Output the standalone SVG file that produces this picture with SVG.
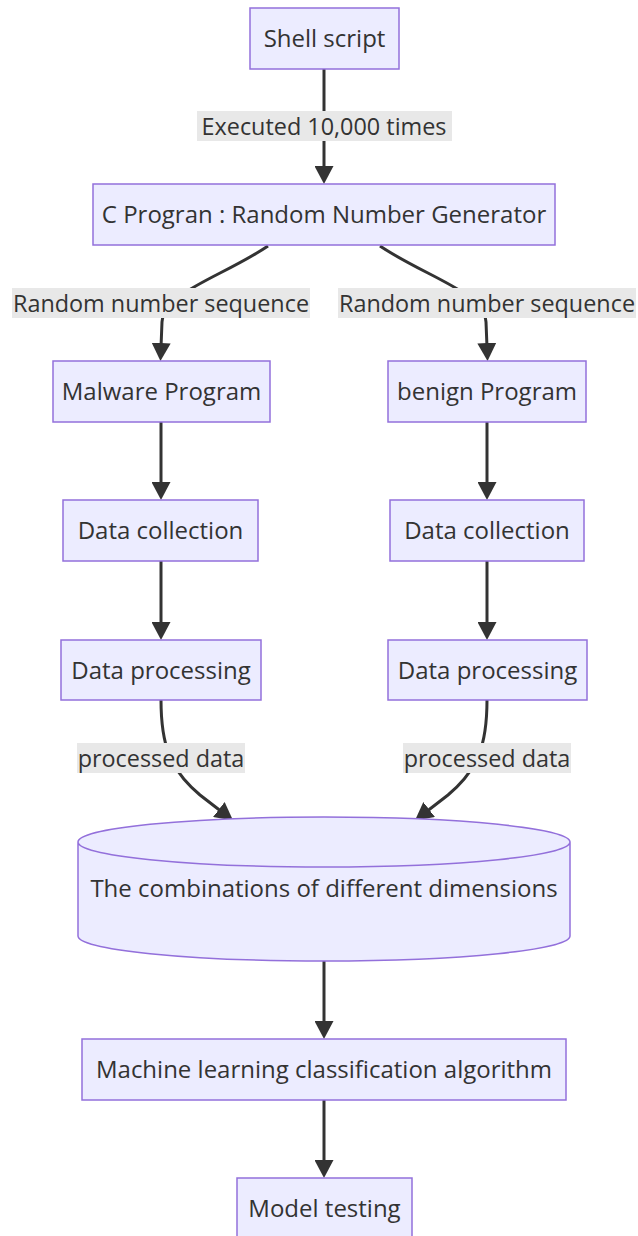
<svg xmlns="http://www.w3.org/2000/svg" width="638" height="1236" viewBox="0 0 638 1236">
  <style>
    .node rect, .node path { fill: #ECECFF; stroke: #9370DB; stroke-width: 1.5; }
    .node text, .label text { font-family: "Open Sans", "Noto Sans", sans-serif; font-size: 24px; fill: #333; text-anchor: middle; }
    .label text { font-size: 23.4px; }
    .edge { fill: none; stroke: #333; stroke-width: 3; }
    .label rect { fill: #E8E8E8; }
  </style>
  <defs>
    <marker id="arrow" viewBox="0 0 18 19" markerWidth="18" markerHeight="19" refX="4" refY="9.5" orient="auto" markerUnits="userSpaceOnUse">
      <path d="M0,0 L18,9.5 L0,19 z" fill="#333"/>
    </marker>
  </defs>

  <!-- connectors -->
  <g id="connectors">
    <path class="edge" d="M324,69 L324,170" marker-end="url(#arrow)"/>
    <path class="edge" d="M268,246 C222,277 164,292 162,322 L161,347" marker-end="url(#arrow)"/>
    <path class="edge" d="M380,246 C426,277 484,292 486,322 L487,347" marker-end="url(#arrow)"/>
    <path class="edge" d="M161,422 L161,486" marker-end="url(#arrow)"/>
    <path class="edge" d="M487,422 L487,486" marker-end="url(#arrow)"/>
    <path class="edge" d="M161,561 L161,626" marker-end="url(#arrow)"/>
    <path class="edge" d="M487,561 L487,626" marker-end="url(#arrow)"/>
    <path class="edge" d="M161,700 C161,745 170,770 200,795 L222,812" marker-end="url(#arrow)"/>
    <path class="edge" d="M487,700 C487,745 478,770 448,795 L426,812" marker-end="url(#arrow)"/>
    <path class="edge" d="M324,961 L324,1025" marker-end="url(#arrow)"/>
    <path class="edge" d="M324,1100 L324,1164" marker-end="url(#arrow)"/>
  </g>

  <!-- edge labels -->
  <g id="edge-labels">
    <g class="label"><rect x="197" y="111" width="255" height="30"/><text x="324" y="134.5">Executed 10,000 times</text></g>
    <g class="label"><rect x="12" y="288" width="298" height="30"/><text x="161" y="311.5">Random number sequence</text></g>
    <g class="label"><rect x="338" y="288" width="298" height="30"/><text x="487" y="311.5">Random number sequence</text></g>
    <g class="label"><rect x="77" y="743" width="168" height="30"/><text x="161" y="766.5">processed data</text></g>
    <g class="label"><rect x="403" y="743" width="168" height="30"/><text x="487" y="766.5">processed data</text></g>
  </g>

  <g id="shell" class="node"><rect x="250" y="8" width="149" height="61"/><text x="324.5" y="47">Shell script</text></g>
  <g id="generator" class="node"><rect x="93" y="184" width="462" height="61"/><text x="324" y="223">C Progran : Random Number Generator</text></g>
  <g id="malware" class="node"><rect x="53" y="361" width="217" height="61"/><text x="161.5" y="400">Malware Program</text></g>
  <g id="benign" class="node"><rect x="388" y="361" width="198" height="61"/><text x="487" y="400">benign Program</text></g>
  <g id="collect-malware" class="node"><rect x="63" y="500" width="195" height="61"/><text x="160.5" y="539">Data collection</text></g>
  <g id="collect-benign" class="node"><rect x="390" y="500" width="194" height="61"/><text x="487" y="539">Data collection</text></g>
  <g id="process-malware" class="node"><rect x="61" y="640" width="200" height="60"/><text x="161" y="679">Data processing</text></g>
  <g id="process-benign" class="node"><rect x="388" y="640" width="199" height="60"/><text x="487.5" y="679">Data processing</text></g>
  <g id="combinations" class="node">
    <path d="M78,842 a246,25 0 0 0 492,0 a246,25 0 0 0 -492,0 l0,94 a246,25 0 0 0 492,0 l0,-94"/>
    <text x="324" y="897">The combinations of different dimensions</text>
  </g>
  <g id="classifier" class="node"><rect x="82" y="1039" width="484" height="61"/><text x="324" y="1078">Machine learning classification algorithm</text></g>
  <g id="testing" class="node"><rect x="237" y="1178" width="175" height="61"/><text x="324.5" y="1217">Model testing</text></g>
</svg>
